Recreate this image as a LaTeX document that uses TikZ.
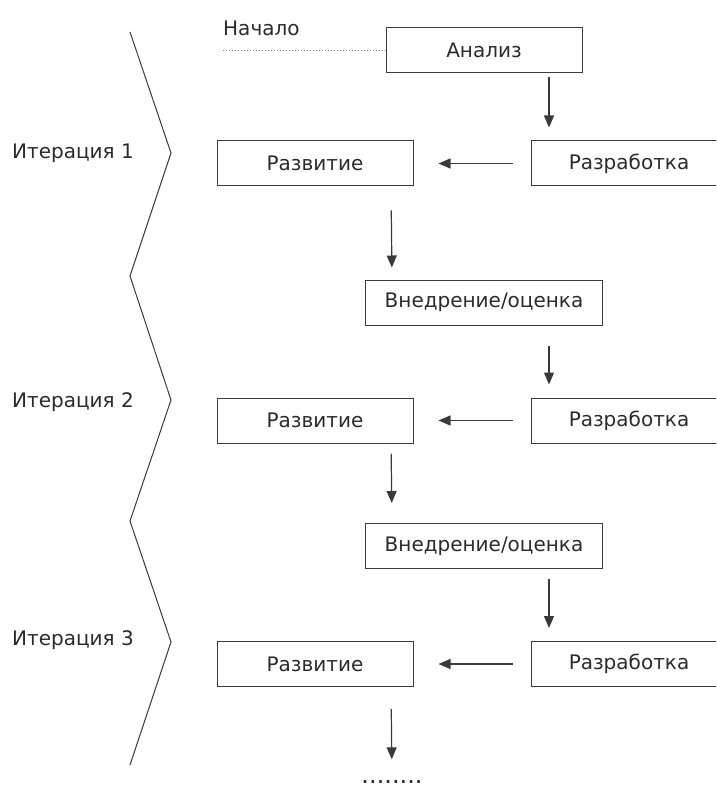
\documentclass[tikz,border=0pt]{standalone}
\usepackage{fontspec}
\setmainfont{DejaVu Sans}
\usepackage{tikz}
\usetikzlibrary{positioning}
\usetikzlibrary{arrows.meta}

\definecolor{linegray}{HTML}{3A3A3A}
\definecolor{textgray}{HTML}{2B2B2B}

\begin{document}
\begin{tikzpicture}[x=1pt, y=-1pt,
    every node/.style={text=textgray, font=\fontsize{20}{24}\selectfont},
    phase/.style={rectangle, draw=linegray, line width=1pt, minimum width=196pt, minimum height=45pt, text centered, inner sep=0pt},
    label/.style={anchor=west, inner sep=0pt},
    arr/.style={-{Triangle[width=10pt,length=12pt]}, draw=linegray, line width=1.2pt}]
    \clip (0,0) rectangle (716,791);
    % nodes %
    \node[label] (nachalo) at (223,28) {Начало};
    \node[phase] (analiz) at (484,50.5) {Анализ};
    \node[phase] (razr1) at (629,163.5) {Разработка};
    \node[phase, left = 117pt of razr1] (razv1) {Развитие};
    \node[phase, minimum width=237pt] (vnedr1) at (484,302.5) {Внедрение/оценка};
    \node[phase] (razr2) at (629,420.5) {Разработка};
    \node[phase, left = 117pt of razr2] (razv2) {Развитие};
    \node[phase, minimum width=237pt] (vnedr2) at (484,546) {Внедрение/оценка};
    \node[phase] (razr3) at (629,664) {Разработка};
    \node[phase, left = 117pt of razr3] (razv3) {Развитие};
    \node[inner sep=1pt, font=\fontsize{24}{24}\selectfont] (dots) at (392,782) {........};
    \node[label] (iter1) at (12,153) {Итерация 1};
    \node[label] (iter2) at (12,402) {Итерация 2};
    \node[label] (iter3) at (12,640) {Итерация 3};
    % iterations %
    \draw[linegray, line width=1pt] (130,32) -- (171,153) -- (130,276) -- (171,400) -- (130,521) -- (171,642) -- (130,765);
    % edges %
    \draw[dotted, gray, line width=1pt] (analiz.west -| nachalo.west) -- (analiz.west);
    \draw[arr, shorten <=4pt, shorten >=13pt] ([xshift=65pt]analiz.south) -- ([xshift=-80pt]razr1.north);
    \draw[arr, shorten <=18pt, shorten >=25pt] (razr1.west) -- (razv1.east);
    \draw[arr, shorten <=24pt, shorten >=12pt] ([xshift=76pt]razv1.south) -- ([xshift=-92pt]vnedr1.north);
    \draw[arr, shorten <=20pt, shorten >=13pt] ([xshift=65pt]vnedr1.south) -- ([xshift=-80pt]razr2.north);
    \draw[arr, shorten <=18pt, shorten >=25pt] (razr2.west) -- (razv2.east);
    \draw[arr, shorten <=10pt, shorten >=20pt] ([xshift=76pt]razv2.south) -- ([xshift=-92pt]vnedr2.north);
    \draw[arr, shorten <=10pt, shorten >=13pt] ([xshift=65pt]vnedr2.south) -- ([xshift=-80pt]razr3.north);
    \draw[arr, shorten <=18pt, shorten >=25pt] (razr3.west) -- (razv3.east);
    \draw[arr, shorten <=22pt, shorten >=20pt] ([xshift=76pt]razv3.south) -- (dots.north);
\end{tikzpicture}
\end{document}
